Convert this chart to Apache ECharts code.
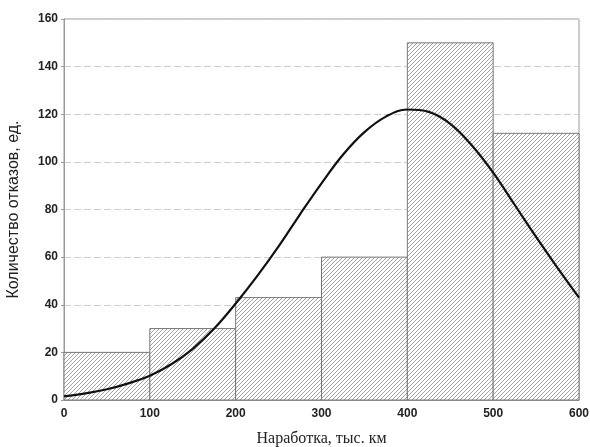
<!DOCTYPE html>
<html>
<head>
<meta charset="utf-8">
<script src="https://cdn.jsdelivr.net/npm/echarts@6/dist/echarts.min.js"></script>
<style>
  html, body { margin: 0; padding: 0; background: #fff; }
  #chart { width: 590px; height: 447px; }
</style>
</head>
<body>
<div id="chart"></div>
<script>
// интервалы наработки (тыс. км) и число отказов
const binStart = [0, 100, 200, 300, 400, 500];
const binEnd = [100, 200, 300, 400, 500, 600];
const failures = [20, 30, 43, 60, 150, 112];

// теоретическая кривая
const curveX = [0, 25, 50, 75, 100, 125, 150, 175, 200, 225, 250, 275, 300,
  325, 350, 375, 400, 425, 450, 475, 500, 525, 550, 575, 600];
const curveY = [1.5, 2.8, 4.5, 7, 10.2, 15, 21.5, 30, 40.5, 52, 64.5, 78, 91,
  103, 112.5, 119, 122, 121, 116, 107, 95.5, 82, 68.5, 55.5, 43];

const yTicks = [0, 20, 40, 60, 80, 100, 120, 140, 160];

// штриховка столбцов
const hatch = document.createElement("canvas");
hatch.width = 4;
hatch.height = 4;
(function () {
  const c = hatch.getContext("2d");
  c.fillStyle = "#fff";
  c.fillRect(0, 0, 4, 4);
  c.strokeStyle = "#a2a2a2";
  c.lineWidth = 1;
  c.beginPath();
  c.moveTo(-1, 5); c.lineTo(5, -1);
  c.moveTo(-3, 3); c.lineTo(3, -3);
  c.moveTo(1, 7); c.lineTo(7, 1);
  c.stroke();
})();

const chart = echarts.init(document.getElementById("chart"));

const bins = binStart.map((s, i) => [s, binEnd[i], failures[i]]);
const curve = curveX.map((x, i) => [x, curveY[i]]);

const tickFont = {
  color: "#222",
  fontFamily: "Liberation Sans",
  fontSize: 12,
  fontWeight: "bold",
};

chart.setOption({
  animation: false,
  backgroundColor: "#fff",
  grid: {
    left: 64,
    right: 11,
    top: 19,
    bottom: 47,
    outerBoundsMode: "none",
    show: true,
    borderColor: "#9a9a9a",
    borderWidth: 1,
  },
  xAxis: {
    type: "value",
    min: 0,
    max: 600,
    interval: 100,
    name: "Наработка, тыс. км",
    nameLocation: "middle",
    nameGap: 31,
    nameTextStyle: {
      color: "#222",
      fontFamily: "Liberation Serif",
      fontSize: 16,
    },
    axisLine: { show: true, lineStyle: { color: "#9a9a9a" } },
    axisTick: { show: false },
    splitLine: { show: false },
    axisLabel: { ...tickFont, margin: 8 },
  },
  yAxis: {
    type: "value",
    min: 0,
    max: 160,
    interval: 20,
    name: "Количество отказов, ед.",
    nameLocation: "middle",
    nameGap: 42,
    nameTextStyle: {
      color: "#222",
      fontFamily: "Liberation Sans",
      fontSize: 16,
    },
    axisLine: { show: true, lineStyle: { color: "#9a9a9a" } },
    axisTick: { show: true, length: 3, lineStyle: { color: "#9a9a9a" } },
    splitLine: {
      show: true,
      lineStyle: { color: "#cfcfcf", type: [7, 3], width: 1 },
    },
    axisLabel: {
      ...tickFont,
      margin: 6,
      formatter: (v) => (yTicks.includes(v) ? String(v) : ""),
    },
  },
  series: [
    {
      type: "custom",
      data: bins,
      z: 2,
      renderItem: function (params, api) {
        const p0 = api.coord([api.value(0), api.value(2)]);
        const p1 = api.coord([api.value(1), 0]);
        return {
          type: "rect",
          shape: { x: p0[0], y: p0[1], width: p1[0] - p0[0], height: p1[1] - p0[1] },
          style: {
            fill: { image: hatch, repeat: "repeat" },
            stroke: "#777",
            lineWidth: 1,
          },
        };
      },
    },
    {
      type: "line",
      data: curve,
      z: 5,
      smooth: 0.4,
      symbol: "none",
      lineStyle: { color: "#111", width: 2.2 },
    },
  ],
});
</script>
</body>
</html>
